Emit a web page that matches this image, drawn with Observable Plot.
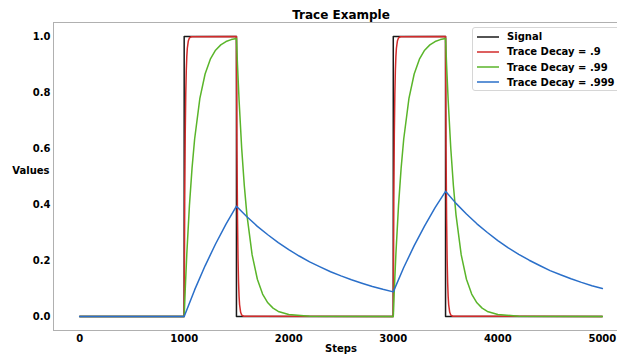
<!DOCTYPE html>
<html>
<head>
<meta charset="utf-8">
<script src="https://cdn.jsdelivr.net/npm/d3@7"></script>
<script src="https://cdn.jsdelivr.net/npm/@observablehq/plot@0.6"></script>
<style>
  html, body { margin: 0; padding: 0; background: #fff; }
  #wrap { position: relative; width: 617px; height: 354px; overflow: hidden; font-family: "DejaVu Sans", sans-serif; }
  #legend {
    position: absolute; left: 472px; top: 27px; width: 150px; height: 64px;
    border: 1px solid #d6d6d6; border-radius: 3px; background: rgba(255,255,255,0.85);
    box-sizing: border-box;
  }
  #legend .row { position: absolute; left: 4px; height: 14px; display: flex; align-items: center; }
  #legend svg { display: block; margin-right: 8px; }
  #legend .lbl { font-size: 10px; font-weight: bold; color: #000; white-space: nowrap; }
</style>
</head>
<body>
<div id="wrap"><div id="chart"></div><div id="legend"></div></div>
<script>
// Square-pulse input signal
const signalSteps  = [0, 1000, 1000, 1500, 1500, 3000, 3000, 3500, 3500, 5000];
const signalValues = [0, 0, 1, 1, 0, 0, 1, 1, 0, 0];

// Trace with decay .9
const trace9Steps = [0,
  1000, 1005, 1010, 1015, 1020, 1025, 1030, 1040, 1050, 1070,
  1500, 1505, 1510, 1515, 1520, 1525, 1530, 1540, 1550, 1570,
  3000, 3005, 3010, 3015, 3020, 3025, 3030, 3040, 3050, 3070,
  3500, 3505, 3510, 3515, 3520, 3525, 3530, 3540, 3550, 3570,
  5000];
const trace9Values = [0,
  0, 0.41, 0.651, 0.794, 0.878, 0.928, 0.958, 0.985, 0.995, 0.999,
  1.0, 0.59, 0.349, 0.206, 0.122, 0.072, 0.042, 0.015, 0.005, 0.001,
  0, 0.41, 0.651, 0.794, 0.878, 0.928, 0.958, 0.985, 0.995, 0.999,
  1.0, 0.59, 0.349, 0.206, 0.122, 0.072, 0.042, 0.015, 0.005, 0.001,
  0];

// Trace with decay .99
const trace99Steps = [0,
  1000, 1010, 1025, 1050, 1075, 1100, 1150, 1200, 1250, 1300, 1350, 1400, 1450,
  1500, 1510, 1525, 1550, 1575, 1600, 1650, 1700, 1750, 1800, 1850, 1900, 2000, 2200,
  3000, 3010, 3025, 3050, 3075, 3100, 3150, 3200, 3250, 3300, 3350, 3400, 3450,
  3500, 3510, 3525, 3550, 3575, 3600, 3650, 3700, 3750, 3800, 3850, 3900, 4000, 4200,
  5000];
const trace99Values = [0,
  0, 0.096, 0.222, 0.395, 0.529, 0.634, 0.779, 0.866, 0.919, 0.951, 0.970, 0.982, 0.989,
  0.993, 0.898, 0.773, 0.601, 0.468, 0.363, 0.220, 0.133, 0.080, 0.049, 0.030, 0.018, 0.007, 0.001,
  0, 0.096, 0.222, 0.395, 0.529, 0.634, 0.779, 0.866, 0.919, 0.951, 0.970, 0.982, 0.989,
  0.993, 0.898, 0.773, 0.601, 0.468, 0.363, 0.220, 0.133, 0.080, 0.049, 0.030, 0.018, 0.007, 0.001,
  0];

// Trace with decay .999
const trace999Steps = [0, 1000,
  1100, 1200, 1300, 1400, 1500,
  1600, 1700, 1800, 1900, 2000, 2100, 2200, 2300, 2400, 2500, 2600, 2700, 2800, 2900, 3000,
  3100, 3200, 3300, 3400, 3500,
  3600, 3700, 3800, 3900, 4000, 4100, 4200, 4300, 4400, 4500, 4600, 4700, 4800, 4900, 5000];
const trace999Values = [0, 0,
  0.095, 0.181, 0.259, 0.330, 0.394,
  0.356, 0.322, 0.292, 0.264, 0.239, 0.216, 0.195, 0.177, 0.160, 0.145, 0.131, 0.119, 0.107, 0.097, 0.088,
  0.175, 0.253, 0.324, 0.389, 0.447,
  0.404, 0.366, 0.331, 0.300, 0.271, 0.245, 0.222, 0.201, 0.182, 0.164, 0.149, 0.135, 0.122, 0.110, 0.100];

const xTicks = [0, 1000, 2000, 3000, 4000, 5000];
const yTicks = [0.0, 0.2, 0.4, 0.6, 0.8, 1.0];

const seriesNames  = ["Signal", "Trace Decay = .9", "Trace Decay = .99", "Trace Decay = .999"];
const seriesColors = ["#1a1a1a", "#d22b2b", "#5ab52a", "#2a6fc9"];

const toRows = (steps, values) => steps.map((s, i) => ({step: s, value: values[i]}));
const series = [
  toRows(signalSteps, signalValues),
  toRows(trace9Steps, trace9Values),
  toRows(trace99Steps, trace99Values),
  toRows(trace999Steps, trace999Values)
];

const font = "DejaVu Sans, sans-serif";

const chart = Plot.plot({
  width: 617,
  height: 354,
  marginLeft: 53,
  marginRight: -11,
  marginTop: 22,
  marginBottom: 24,
  style: {fontFamily: font, fontSize: "10px", fontWeight: "bold", color: "#000", background: "#fff"},
  x: {domain: [-250, 5250], ticks: xTicks, tickFormat: d => String(d)},
  y: {domain: [-0.05, 1.05], ticks: yTicks, tickFormat: d => d.toFixed(1)},
  marks: [
    Plot.frame({stroke: "#b0b0b0", strokeWidth: 1}),
    Plot.axisX({ticks: xTicks, tickSize: 0, tickPadding: 4, label: null, tickFormat: d => String(d), fill: "#000"}),
    Plot.axisY({ticks: yTicks, tickSize: 0, tickPadding: 3, label: null, tickFormat: d => d.toFixed(1), fill: "#000"}),
    ...series.map((rows, i) =>
      Plot.line(rows, {x: "step", y: "value", stroke: seriesColors[i], strokeWidth: 1.5})
    ),
    Plot.text(["Trace Example"], {frameAnchor: "top", lineAnchor: "bottom", dy: -4, fontSize: 12, fontWeight: "bold", fill: "#000"}),
    Plot.text(["Steps"], {frameAnchor: "bottom", lineAnchor: "bottom", dy: 21, fontSize: 10, fontWeight: "bold", fill: "#000"}),
    Plot.text(["Values"], {frameAnchor: "left", textAnchor: "end", dx: -4, dy: -6, fontSize: 10, fontWeight: "bold", fill: "#000"})
  ]
});
document.getElementById("chart").appendChild(chart);

// Legend with line swatches
const legend = document.getElementById("legend");
seriesNames.forEach((name, i) => {
  const row = document.createElement("div");
  row.className = "row";
  row.style.top = (1.5 + i * 15.3) + "px";
  const sw = document.createElementNS("http://www.w3.org/2000/svg", "svg");
  sw.setAttribute("width", "22");
  sw.setAttribute("height", "4");
  const ln = document.createElementNS("http://www.w3.org/2000/svg", "line");
  ln.setAttribute("x1", "0"); ln.setAttribute("x2", "22");
  ln.setAttribute("y1", "2"); ln.setAttribute("y2", "2");
  ln.setAttribute("stroke", seriesColors[i]);
  ln.setAttribute("stroke-width", "1.5");
  sw.appendChild(ln);
  const lbl = document.createElement("span");
  lbl.className = "lbl";
  lbl.textContent = name;
  row.appendChild(sw);
  row.appendChild(lbl);
  legend.appendChild(row);
});
</script>
</body>
</html>
